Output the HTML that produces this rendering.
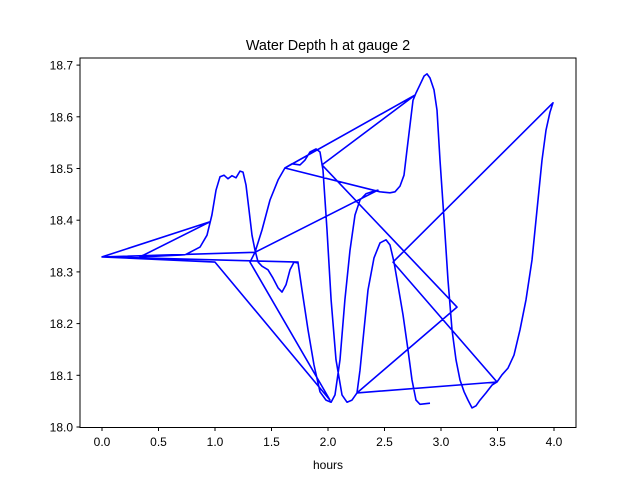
<!DOCTYPE html>
<html><head><meta charset="utf-8"><style>
body{margin:0;background:#fff;}
svg text{font-family:"Liberation Sans","DejaVu Sans",sans-serif;}
</style></head><body>
<svg id="chart" width="640" height="480" xmlns="http://www.w3.org/2000/svg">
<rect width="640" height="480" fill="#fff"/>
<text x="328" y="50" font-size="14.4" text-anchor="middle">Water Depth h at gauge 2</text>
<text x="328" y="469" font-size="12" text-anchor="middle">hours</text>
<g id="ticks"></g>
<path id="line" fill="none" stroke="#0000ff" stroke-width="1.6" stroke-linejoin="round"/>
<rect x="80" y="58" width="496" height="369.5" fill="none" stroke="#000" stroke-width="1"/>
</svg>
<script>
const xTicks=[0,0.5,1,1.5,2,2.5,3,3.5,4];
const xTickLabels=["0.0","0.5","1.0","1.5","2.0","2.5","3.0","3.5","4.0"];
const yTicks=[18.0,18.1,18.2,18.3,18.4,18.5,18.6,18.7];
const yTickLabels=["18.0","18.1","18.2","18.3","18.4","18.5","18.6","18.7"];
const hours=[0,0.956,0.336,0.735,0.867,0.929,0.973,1.009,1.044,1.080,1.115,1.150,1.186,1.221,1.248,1.274,1.301,1.327,1.354,1.381,1.416,1.469,1.513,1.558,1.593,1.628,1.664,1.699,1.735,1.770,1.823,1.876,1.929,1.982,2.027,2.062,2.106,2.150,2.195,2.239,2.283,2.336,2.389,2.442,1.354,0,1.735,0,1.000,2.018,1.310,1.354,1.416,1.487,1.558,1.619,1.681,1.752,1.796,1.841,1.894,1.929,1.956,1.991,2.027,2.071,2.124,2.168,2.212,2.257,3.142,1.947,2.770,1.619,2.460,2.549,2.593,2.637,2.673,2.699,2.726,2.752,2.779,2.814,2.850,2.876,2.903,2.938,2.965,2.991,3.027,3.062,3.097,3.133,3.168,3.204,3.239,3.274,3.310,3.345,3.398,3.451,3.496,3.540,3.593,3.646,3.699,3.752,3.805,3.858,3.894,3.929,3.965,3.991,2.575,3.496,2.257,2.283,2.319,2.354,2.407,2.460,2.513,2.549,2.584,2.619,2.664,2.708,2.743,2.779,2.814,2.903];
const depth=[18.329,18.397,18.329,18.333,18.348,18.371,18.410,18.458,18.484,18.487,18.480,18.486,18.482,18.495,18.493,18.468,18.420,18.371,18.342,18.319,18.311,18.304,18.288,18.269,18.261,18.275,18.304,18.319,18.317,18.265,18.188,18.120,18.068,18.052,18.048,18.062,18.130,18.246,18.342,18.410,18.439,18.451,18.455,18.458,18.338,18.329,18.319,18.329,18.319,18.052,18.319,18.338,18.381,18.439,18.478,18.501,18.509,18.507,18.516,18.532,18.538,18.532,18.497,18.381,18.246,18.130,18.062,18.048,18.052,18.066,18.232,18.507,18.642,18.501,18.455,18.453,18.455,18.466,18.487,18.536,18.584,18.632,18.646,18.662,18.679,18.683,18.675,18.652,18.613,18.516,18.400,18.284,18.188,18.130,18.091,18.068,18.052,18.037,18.041,18.052,18.066,18.081,18.087,18.101,18.114,18.139,18.188,18.246,18.323,18.439,18.516,18.574,18.609,18.627,18.319,18.087,18.066,18.110,18.188,18.265,18.327,18.356,18.362,18.352,18.319,18.275,18.217,18.149,18.091,18.052,18.044,18.046];
const X=v=>102+113*v;
const Y=v=>427-517*(v-18);
const NS="http://www.w3.org/2000/svg";
const g=document.getElementById('ticks');
function mk(tag,attrs){const e=document.createElementNS(NS,tag);for(const k in attrs)e.setAttribute(k,attrs[k]);g.appendChild(e);return e;}
xTicks.forEach((t,i)=>{
  const l=mk('line',{x1:X(t),x2:X(t),y1:427.5,y2:431,stroke:'#000'});
  
  
  const tx=mk('text',{x:X(t),y:446,'font-size':12,'text-anchor':'middle'});
  tx.textContent=xTickLabels[i];
  
  
});
yTicks.forEach((t,i)=>{
  const l=mk('line',{x1:76.5,x2:80,y1:Y(t),y2:Y(t),stroke:'#000'});
  
  
  const tx=mk('text',{x:73,y:Y(t)+4.5,'font-size':12,'text-anchor':'end'});
  tx.textContent=yTickLabels[i];
  
  
});
document.getElementById('line').setAttribute('d',hours.map((h,i)=>(i?'L':'M')+X(h).toFixed(1)+','+Y(depth[i]).toFixed(1)).join(''));
</script>
</body></html>
